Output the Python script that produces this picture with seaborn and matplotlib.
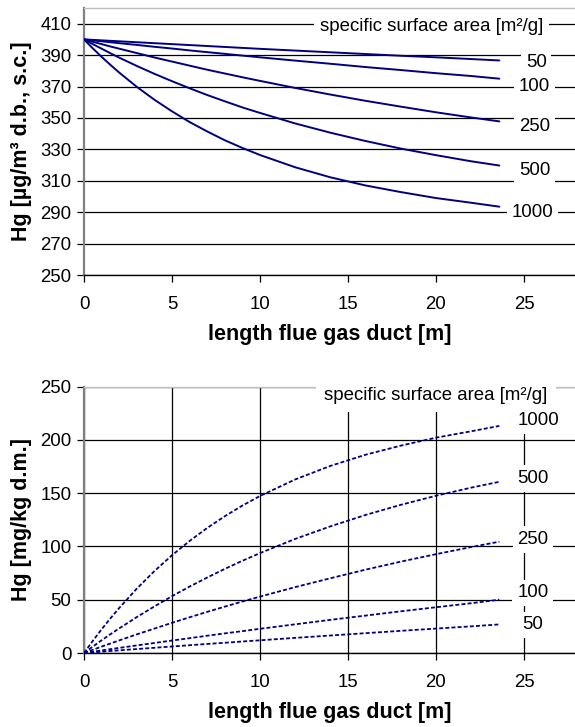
import matplotlib
matplotlib.use("Agg")
import matplotlib.pyplot as plt
import seaborn as sns
import pandas as pd

# ---------------- data ----------------
surface_areas = ["50", "100", "250", "500", "1000"]
duct_length = [0, 0.5, 1, 1.5, 2, 3, 4, 5, 6, 7, 8, 9, 10, 12, 14, 16, 18, 20, 22, 23.6]

gas_50 = [400, 399.7, 399.4, 399.1, 398.8, 398.2, 397.6, 397.0, 396.4, 395.8, 395.2, 394.6, 394.0, 392.9, 391.8, 390.7, 389.6, 388.6, 387.5, 386.6]
gas_100 = [400, 399.4, 398.8, 398.2, 397.6, 396.5, 395.3, 394.2, 393.0, 391.9, 390.8, 389.7, 388.6, 386.5, 384.5, 382.4, 380.5, 378.5, 376.7, 375.0]
gas_250 = [400, 398.5, 397.0, 395.5, 394.1, 391.3, 388.5, 385.9, 383.3, 380.7, 378.3, 375.9, 373.6, 369.1, 364.9, 360.9, 357.2, 353.6, 350.3, 347.8]
gas_500 = [400, 397.0, 394.1, 391.2, 388.4, 383.1, 378.1, 373.4, 368.9, 364.6, 360.6, 356.7, 353.2, 346.5, 340.6, 335.3, 330.5, 326.3, 322.4, 319.7]
gas_1000 = [400, 394.3, 388.9, 383.8, 378.9, 369.8, 361.6, 354.2, 347.4, 341.4, 335.8, 330.9, 326.4, 318.6, 312.2, 307.0, 302.8, 299.0, 296.0, 293.5]

sorb_50 = [0, 0.6, 1.2, 1.9, 2.5, 3.7, 4.9, 6.1, 7.3, 8.5, 9.6, 10.8, 11.9, 14.2, 16.4, 18.6, 20.8, 22.9, 25.0, 26.8]
sorb_100 = [0, 1.2, 2.4, 3.6, 4.8, 7.1, 9.4, 11.7, 13.9, 16.2, 18.4, 20.5, 22.7, 26.9, 31.1, 35.1, 39.1, 42.9, 46.7, 50.0]
sorb_250 = [0, 3.0, 6.0, 8.9, 11.8, 17.5, 22.9, 28.3, 33.5, 38.6, 43.5, 48.3, 52.9, 61.8, 70.1, 78.2, 85.7, 92.7, 99.4, 104.4]
sorb_500 = [0, 6.0, 11.9, 17.6, 23.1, 33.7, 43.7, 53.3, 62.3, 70.8, 78.9, 86.5, 93.7, 107.0, 118.8, 129.5, 139.0, 147.5, 155.1, 160.6]
sorb_1000 = [0, 11.4, 22.2, 32.5, 42.2, 60.4, 76.8, 91.7, 105.1, 117.3, 128.3, 138.3, 147.3, 162.8, 175.5, 186.0, 194.5, 202.0, 208.0, 213.0]

x_ticks = [0, 5, 10, 15, 20, 25]
top_yticks = [250, 270, 290, 310, 330, 350, 370, 390, 410]
bottom_yticks = [0, 50, 100, 150, 200, 250]

legend_title = "specific surface area [m²/g]"
xlabel = "length flue gas duct [m]"
top_ylabel = "Hg [µg/m³ d.b., s.c.]"
bottom_ylabel = "Hg [mg/kg d.m.]"

# ---------------- build long tables ----------------
gas_series = [gas_50, gas_100, gas_250, gas_500, gas_1000]
sorb_series = [sorb_50, sorb_100, sorb_250, sorb_500, sorb_1000]
df_gas = pd.concat([pd.DataFrame({"x": duct_length, "y": s, "area": a})
                    for a, s in zip(surface_areas, gas_series)], ignore_index=True)
df_sorb = pd.concat([pd.DataFrame({"x": duct_length, "y": s, "area": a})
                     for a, s in zip(surface_areas, sorb_series)], ignore_index=True)

# ---------------- style ----------------
sns.set_style("white")
plt.rcParams["font.family"] = ["Liberation Sans", "DejaVu Sans"]
plt.rcParams["text.color"] = "black"
plt.rcParams["axes.labelcolor"] = "black"
plt.rcParams["xtick.color"] = "black"
plt.rcParams["ytick.color"] = "black"

NAVY = "#000080"
TICK_FS = 13.4
LAB_FS = 15.5

fig = plt.figure(figsize=(5.75, 7.27), dpi=100)
ax1 = fig.add_axes([84 / 575, 1 - 275 / 727, 491 / 575, 267 / 727])
ax2 = fig.add_axes([84 / 575, 1 - 653 / 727, 491 / 575, 266.5 / 727])

palette = {a: NAVY for a in surface_areas}

sns.lineplot(data=df_gas, x="x", y="y", hue="area", palette=palette,
             ax=ax1, legend=False, linewidth=1.4, zorder=3)
sns.lineplot(data=df_sorb, x="x", y="y", hue="area", palette=palette,
             ax=ax2, legend=False, linewidth=1.3, zorder=3)
for ln in ax2.lines:
    ln.set_dashes([2.2, 1.2])

bbox = dict(boxstyle="square,pad=0.25", fc="white", ec="none")

# top panel
ax1.set_xlim(0, 27.9)
ax1.set_ylim(250, 420)
ax1.set_yticks(top_yticks)
ax1.set_xticks(x_ticks)
ax1.yaxis.grid(True, color="black", linewidth=0.9)
ax1.xaxis.grid(False)
top_label_pos = {"50": (25.7, 385.5), "100": (25.6, 370), "250": (25.6, 344.7),
                 "500": (25.6, 316.8), "1000": (25.5, 290)}
for a in surface_areas:
    x, y = top_label_pos[a]
    ax1.text(x, y, a, ha="center", va="center", fontsize=TICK_FS, bbox=bbox, zorder=5)
ax1.text(19.75, 408, legend_title, ha="center", va="center", fontsize=TICK_FS,
         bbox=dict(boxstyle="square,pad=0.3", fc="white", ec="none"), zorder=5)

# bottom panel
ax2.set_xlim(0, 27.9)
ax2.set_ylim(0, 250)
ax2.set_yticks(bottom_yticks)
ax2.set_xticks(x_ticks)
ax2.grid(True, color="black", linewidth=0.9)
bot_label_pos = {"1000": (25.8, 217.8), "500": (25.5, 163.8), "250": (25.5, 106.6),
                 "100": (25.5, 56.6), "50": (25.5, 26.3)}
for a in surface_areas:
    x, y = bot_label_pos[a]
    ax2.text(x, y, a, ha="center", va="center", fontsize=TICK_FS, bbox=bbox, zorder=5)
ax2.text(20.0, 242, legend_title, ha="center", va="center", fontsize=TICK_FS,
         bbox=dict(boxstyle="square,pad=0.45", fc="white", ec="none"), zorder=5)

for ax, yl in [(ax1, top_ylabel), (ax2, bottom_ylabel)]:
    ax.set_axisbelow(True)
    ax.spines["left"].set_color("#808080")
    ax.spines["left"].set_linewidth(1.6)
    ax.spines["bottom"].set_color("black")
    ax.spines["bottom"].set_linewidth(1.0)
    ax.spines["top"].set_color("#c0c0c0")
    ax.spines["top"].set_linewidth(1.0)
    ax.spines["right"].set_visible(False)
    ax.tick_params(axis="both", direction="out", length=5, width=0.9, color="black",
                   labelsize=TICK_FS, left=True, bottom=True)
    ax.tick_params(axis="x", pad=10)
    ax.tick_params(axis="y", pad=4)
    ax.set_xlabel(xlabel, fontsize=LAB_FS, fontweight="bold", labelpad=8)
    ax.set_ylabel(yl, fontsize=LAB_FS, fontweight="bold", labelpad=6)

fig.savefig("out.png", dpi=100)
